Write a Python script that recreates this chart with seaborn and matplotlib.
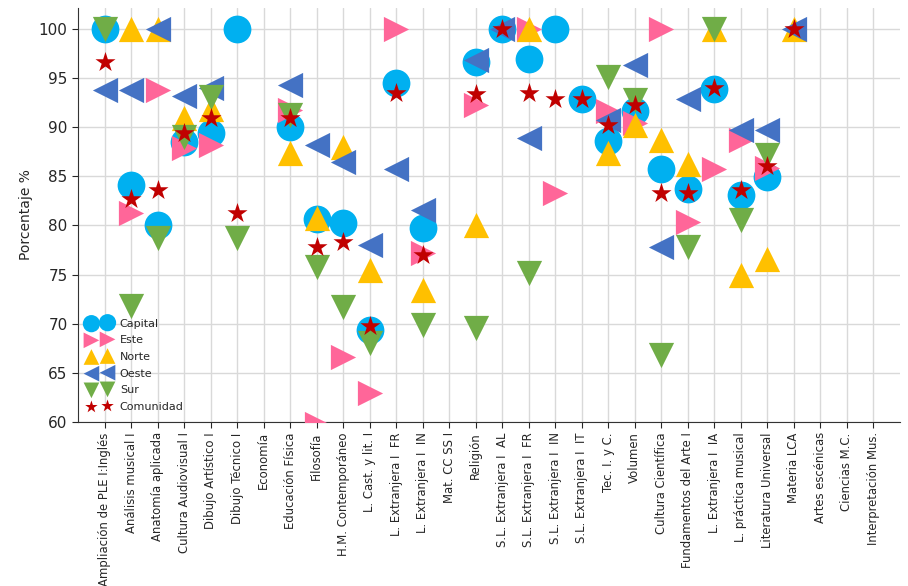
import numpy as np
import pandas as pd
import matplotlib
matplotlib.use("Agg")
import matplotlib.pyplot as plt
import seaborn as sns

sns.set_style("whitegrid", {"grid.color": "#d9d9d9", "axes.edgecolor": "#333333"})
plt.rcParams['font.family'] = ['DejaVu Sans']

nan = np.nan

asignaturas = ["Ampliación de PLE I:Inglés", "Análisis musical I", "Anatomía aplicada",
               "Cultura Audiovisual I", "Dibujo Artístico I", "Dibujo Técnico I", "Economía",
               "Educación Física", "Filosofía", "H.M. Contemporáneo", "L. Cast. y lit. I",
               "L. Extranjera I  FR", "L. Extranjera I  IN", "Mat. CC SS I", "Religión",
               "S.L. Extranjera I  AL", "S.L. Extranjera I  FR", "S.L. Extranjera I  IN",
               "S.L. Extranjera I  IT", "Tec. I. y C.", "Volumen", "Cultura Científica",
               "Fundamentos del Arte I", "L. Extranjera I  IA", "L. práctica musical",
               "Literatura Universal", "Materia LCA", "Artes escénicas", "Ciencias M.C.",
               "Interpretación Mus."]

capital = [100, 84.1, 80.0, 88.5, 89.4, 100, nan, 90.0, 80.6, 80.2, 69.4, 94.5, 79.7, nan, 96.6,
           100, 96.9, 100, 92.9, 88.6, 91.6, 85.7, 83.7, 93.9, 83.1, 84.9, nan, nan, nan, nan]
este = [nan, 81.3, 93.8, 87.9, 88.2, nan, nan, 91.7, 59.8, 66.6, 62.9, 100, 77.2, nan, 92.3,
        nan, 100, 83.3, nan, 91.6, 90.4, 100, 80.3, 85.7, 88.7, 85.8, nan, nan, nan, nan]
norte = [nan, 100, 100, 90.9, 91.8, nan, nan, 87.4, 80.8, 88.0, 75.5, nan, 73.4, nan, 80.0,
         nan, 100, nan, nan, 87.4, 90.2, 88.7, 86.2, 100, 75.0, 76.6, 100, nan, nan, nan]
oeste = [93.8, 93.8, 100, 93.2, 94.0, nan, nan, 94.3, 88.2, 86.4, 78.0, 85.7, 81.6, nan, 96.8,
         100, 88.9, nan, nan, 90.7, 96.3, 77.8, 92.9, nan, 89.7, 89.7, 100, nan, nan, nan]
sur = [100, 71.8, 78.7, 89.0, 93.1, 78.7, nan, 91.2, 75.8, 71.7, 68.0, nan, 69.9, nan, 69.6,
       nan, 75.2, nan, nan, 95.1, 92.8, 66.8, 77.8, 100, 80.5, 87.2, nan, nan, nan, nan]
comunidad = [96.6, 82.7, 83.6, 89.4, 90.9, 81.3, nan, 90.9, 77.8, 78.3, 69.8, 93.5, 77.0, nan, 93.4,
             100, 93.5, 92.9, 92.9, 90.2, 92.2, 83.3, 83.3, 94.0, 83.6, 86.0, 100, nan, nan, nan]

series = [("Capital", capital, "o", "#00B0F0", 400),
          ("Este", este, ">", "#FF6699", 330),
          ("Norte", norte, "^", "#FFC000", 330),
          ("Oeste", oeste, "<", "#4472C4", 330),
          ("Sur", sur, "v", "#70AD47", 330),
          ("Comunidad", comunidad, "*", "#C00000", 230)]

fig = plt.figure(figsize=(9.08, 5.86), dpi=100)
ax = fig.add_axes([0.086, 0.28, 0.905, 0.706])

x = np.arange(len(asignaturas))
for nombre, valores, marca, color, tam in series:
    df = pd.DataFrame({"x": x, "y": valores})
    sns.scatterplot(data=df, x="x", y="y", marker=marca, color=color, s=tam,
                    linewidth=0, label=nombre, ax=ax, zorder=3)

ax.set_xlim(-1, 30)
ax.set_ylim(60, 102.1)
ax.set_yticks(np.arange(60, 101, 5))
ax.set_xticks(x)
ax.set_xticklabels(asignaturas, rotation=90, fontsize=8.4)
ax.tick_params(axis="y", labelsize=11, length=4, left=True)
ax.tick_params(axis="x", length=4, bottom=True)
ax.set_xlabel("")
ax.set_ylabel("Porcentaje %", fontsize=10)
for s in ["top", "right"]:
    ax.spines[s].set_visible(False)
ax.grid(True, color="#d9d9d9", linewidth=1)

ax.legend(loc="lower left", frameon=False, scatterpoints=2, markerscale=0.62,
          fontsize=8, handlelength=2.05, handletextpad=0.8, labelspacing=0.6,
          borderaxespad=0.5)

fig.savefig("out.png", dpi=100)
